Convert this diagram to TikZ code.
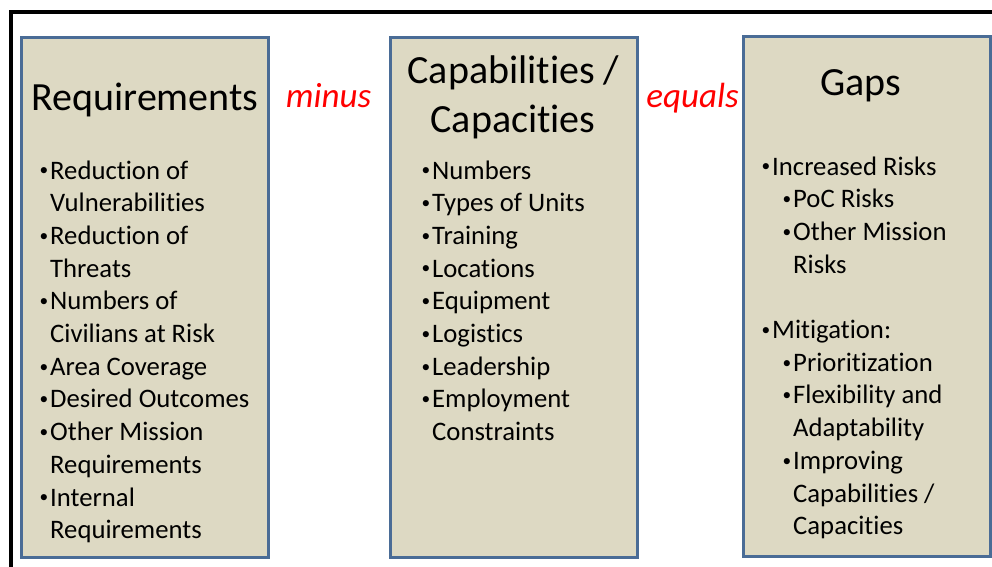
\documentclass[tikz,border=0pt]{standalone}
\usepackage{graphicx}
\usepackage{fontspec}
\setmainfont{Carlito}[Ligatures={NoCommon}]
\definecolor{boxfill}{HTML}{DDD9C3}
\definecolor{boxline}{HTML}{4A6C96}
\newcommand{\bulletmark}{\llap{\raisebox{0.12em}{\scalebox{0.65}{•}}\hspace{2pt}}}

\begin{document}
\begin{tikzpicture}[x=1pt,y=-1pt,
    box/.style={draw=boxline, fill=boxfill, line width=3pt, minimum width=247pt, minimum height=520pt, inner sep=0pt},
    title/.style={anchor=base, inner sep=0pt, font=\fontsize{40}{48}\selectfont},
    item/.style={anchor=base west, inner sep=0pt, font=\fontsize{26.7}{32.7}\selectfont},
    op/.style={anchor=base, inner sep=0pt, text=red, font=\fontsize{35}{42}\selectfont\itshape}]
    \useasboundingbox (0,0) rectangle (992,566);

    % Draw the frame
    \draw[line width=4pt] (10.5,580) -- (10.5,12) -- (1000,12);

    % Define the boxes
    \node[box] (req) at (145,297) {};
    \node[box] (cap) at (513.5,297) {};
    \node[box] (gap) at (867,296.5) {};

    % Titles and operators
    \node[title] (reqtitle) at (145,110) {Requirements};
    \node[title] (captitle) at (513.5,83) {Capabilities /};
    \node[title] (captitletwo) at (513,132) {Capacities};
    \node[title] (gaptitle) at (861,95) {Gaps};
    \node[op] (minus) at (328.5,107) {minus};
    \node[op] (equals) at (692.5,107) {equals};

    % Requirements list
    \foreach \t [count=\i from 0] in {{\bulletmark Reduction of}, Vulnerabilities,
        {\bulletmark Reduction of}, Threats, {\bulletmark Numbers of}, Civilians at Risk,
        {\bulletmark Area Coverage}, {\bulletmark Desired Outcomes}, {\bulletmark Other Mission},
        Requirements, {\bulletmark Internal}, Requirements}
    \node[item] (req\i) at (50,{179+\i*32.7}) {\t};

    % Capabilities list
    \foreach \t [count=\i from 0] in {Numbers, Types of Units, Training, Locations,
        Equipment, Logistics, Leadership, Employment}
    \node[item] (cap\i) at (432,{179+\i*32.7}) {\bulletmark\t};
    \node[item] (cap8) at (432,{179+8*32.7}) {Constraints};

    % Gaps list
    \foreach \n/\x/\t in {0/772/{\bulletmark Increased Risks}, 1/793/{\bulletmark PoC Risks},
        2/793/{\bulletmark Other Mission}, 3/793/Risks, 5/772/{\bulletmark Mitigation:},
        6/793/{\bulletmark Prioritization}, 7/793/{\bulletmark Flexibility and},
        8/793/Adaptability, 9/793/{\bulletmark Improving}, 10/793/{Capabilities /},
        11/793/Capacities}
    \node[item] (gap\n) at (\x,{175+\n*32.7}) {\t};
\end{tikzpicture}
\end{document}
